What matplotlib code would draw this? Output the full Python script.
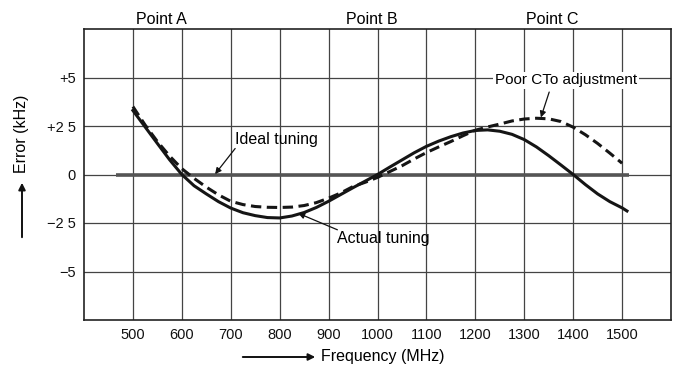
import matplotlib
matplotlib.use("Agg")
import matplotlib.pyplot as plt

plt.rcParams['font.family'] = ['Liberation Sans', 'DejaVu Sans']

# ---- data ----
freq_actual = [500, 525, 550, 575, 600, 625, 650, 675, 700, 725, 750, 775, 800, 825, 850, 875,
               900, 925, 950, 975, 1000, 1025, 1050, 1075, 1100, 1125, 1150, 1175, 1200, 1225,
               1250, 1275, 1300, 1325, 1350, 1375, 1400, 1425, 1450, 1475, 1500, 1510]
err_actual = [3.3, 2.45, 1.6, 0.76, 0.0, -0.58, -1.0, -1.4, -1.73, -1.97, -2.12, -2.22, -2.24, -2.14,
              -1.96, -1.7, -1.38, -1.03, -0.68, -0.34, 0.0, 0.38, 0.75, 1.12, 1.45, 1.72, 1.95,
              2.14, 2.27, 2.3, 2.23, 2.07, 1.8, 1.42, 0.97, 0.49, 0.0, -0.52, -1.0, -1.4, -1.72, -1.88]

freq_poor = [500, 525, 550, 575, 600, 625, 650, 675, 700, 725, 750, 775, 800, 825, 850, 875,
             900, 925, 950, 975, 1000, 1025, 1050, 1075, 1100, 1125, 1150, 1175, 1200, 1225,
             1250, 1275, 1300, 1325, 1350, 1375, 1400, 1425, 1450, 1475, 1500]
err_poor = [3.5, 2.55, 1.7, 0.95, 0.3, -0.2, -0.65, -1.05, -1.38, -1.55, -1.65, -1.69, -1.7, -1.68,
            -1.6, -1.45, -1.22, -0.95, -0.62, -0.4, -0.15, 0.15, 0.45, 0.8, 1.13, 1.42, 1.7,
            2.0, 2.28, 2.45, 2.6, 2.76, 2.86, 2.9, 2.87, 2.73, 2.44, 2.05, 1.6, 1.1, 0.58]

freq_ideal = [465, 1515]
err_ideal = [0, 0]

x_ticks = [500, 600, 700, 800, 900, 1000, 1100, 1200, 1300, 1400, 1500]
x_tick_labels = [str(v) for v in x_ticks]
y_ticks = [-5, -2.5, 0, 2.5, 5]
y_tick_labels = ['\u22125', '\u22122 5', '0', '+2 5', '+5']

point_labels = ['Point A', 'Point B', 'Point C']
point_freqs = [558, 988, 1357]

# ---- figure ----
W, H = 676, 374
fig = plt.figure(figsize=(W / 100, H / 100), dpi=100)
ax = fig.add_axes([84 / W, 1 - 320 / H, (671 - 84) / W, (320 - 29) / H])

ax.set_xlim(400, 1600)
ax.set_ylim(-7.5, 7.5)
ax.set_xticks(x_ticks)
ax.set_xticklabels(x_tick_labels, fontsize=10.5)
ax.set_yticks(y_ticks)
ax.set_yticklabels(y_tick_labels, fontsize=10.5)
ax.tick_params(length=0, pad=6, colors='#111')
ax.grid(True, color='#444', lw=0.9)
ax.set_axisbelow(True)
for s in ax.spines.values():
    s.set_linewidth(1.2)
    s.set_color('#222')

ax.plot(freq_ideal, err_ideal, color='#555', lw=2.6, solid_capstyle='butt', zorder=3)
ax.plot(freq_actual, err_actual, color='#151515', lw=2.2, zorder=4)
ax.plot(freq_poor, err_poor, color='#151515', lw=2.2, dashes=(3.4, 1.8), zorder=4)

for lab, f in zip(point_labels, point_freqs):
    ax.text(f, 8.0, lab, ha='center', va='center', fontsize=11.5, clip_on=False)

arrow = dict(arrowstyle='-|>', lw=0.9, color='#111', mutation_scale=9,
             shrinkA=0, shrinkB=0)

ax.annotate('', xy=(668, 0.02), xytext=(709, 1.34), arrowprops=arrow, zorder=5)
ax.text(709, 1.8, 'Ideal tuning', ha='left', va='center', fontsize=11.5)

ax.annotate('', xy=(838, -2.0), xytext=(918, -2.85), arrowprops=arrow, zorder=5)
ax.text(918, -3.3, 'Actual tuning', ha='left', va='center', fontsize=11.5)

ax.annotate('', xy=(1334, 2.94), xytext=(1351, 4.25), arrowprops=arrow, zorder=5)
ax.text(1240, 4.85, 'Poor CTo adjustment', ha='left', va='center', fontsize=11,
        bbox=dict(boxstyle='square,pad=0.1', fc='white', ec='none'), zorder=6)

# axis labels with arrows
fig.text(22 / W, 1 - 134 / H, 'Error (kHz)', rotation=90, ha='center', va='center',
         fontsize=11.5)
fig.add_artist(matplotlib.patches.FancyArrowPatch(
    (22 / W, 1 - 240 / H), (22 / W, 1 - 180 / H), transform=fig.transFigure,
    arrowstyle='-|>', mutation_scale=10, lw=1.4, color='#111'))

fig.text(321 / W, 1 - 357 / H, 'Frequency (MHz)', ha='left', va='center', fontsize=11.5)
fig.add_artist(matplotlib.patches.FancyArrowPatch(
    (240 / W, 1 - 357 / H), (318 / W, 1 - 357 / H), transform=fig.transFigure,
    arrowstyle='-|>', mutation_scale=10, lw=1.4, color='#111'))

fig.savefig('out.png', dpi=100, facecolor='white')
